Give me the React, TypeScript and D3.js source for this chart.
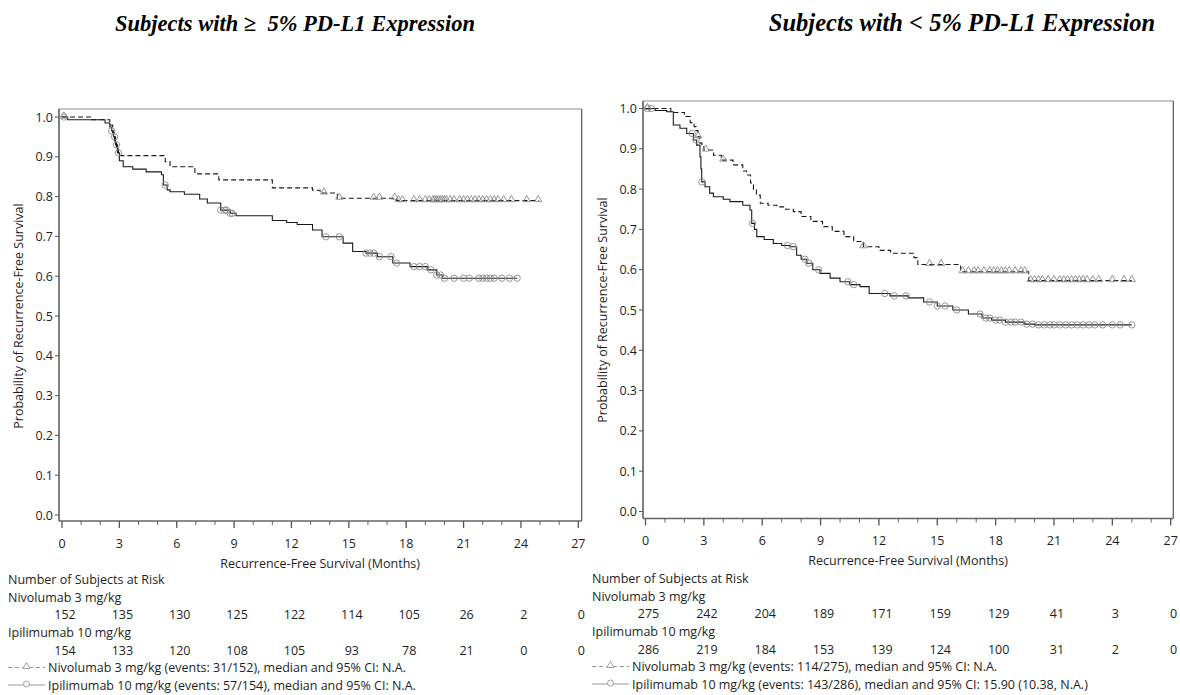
import React from 'react';
import * as d3 from 'd3';

// ---------- DATA ----------
const monthTicks = [0, 3, 6, 9, 12, 15, 18, 21, 24, 27];
const minorTicks = d3.range(0, 28, 1);
const probTicks = [0, 0.1, 0.2, 0.3, 0.4, 0.5, 0.6, 0.7, 0.8, 0.9, 1.0];

const titleLeft = 'Subjects with \u2265  5% PD-L1 Expression';
const titleRight = 'Subjects with < 5% PD-L1 Expression';
const xAxisLabel = 'Recurrence-Free Survival (Months)';
const yAxisLabel = 'Probability of Recurrence-Free Survival';
const riskHeader = 'Number of Subjects at Risk';
const armNivo = 'Nivolumab 3 mg/kg';
const armIpi = 'Ipilimumab 10 mg/kg';

// Left panel (>= 5% PD-L1)
const leftNivoTimes = [0, 1.5, 2.5, 2.65, 2.75, 2.85, 2.95, 5.4, 5.65, 6.95, 8.2, 11.0, 13.1, 13.5, 14.4, 17.5, 24.95];
const leftNivoSurv = [1.0, 0.993, 0.98, 0.96, 0.94, 0.92, 0.903, 0.888, 0.875, 0.857, 0.842, 0.822, 0.816, 0.809, 0.796, 0.79, 0.79];
const leftNivoCensor = [0.1, 13.7, 14.5, 16.3, 16.6, 17.4, 17.6, 17.8, 18.4, 18.7, 19.0, 19.2, 19.4, 19.5, 19.6, 19.7, 19.8, 19.9, 20.0, 20.1, 20.3, 20.5, 20.8, 21.0, 21.2, 21.4, 21.6, 21.8, 22.0, 22.2, 22.4, 22.6, 22.8, 23.1, 23.5, 24.3, 24.9];
const leftIpiTimes = [0, 0.3, 2.25, 2.5, 2.6, 2.7, 2.8, 2.9, 3.0, 3.2, 3.7, 4.4, 5.2, 5.3, 5.5, 5.65, 6.4, 7.2, 7.6, 8.3, 8.8, 9.1, 11.0, 11.75, 12.3, 13.1, 13.6, 14.7, 15.2, 15.9, 16.5, 17.3, 18.2, 19.1, 19.6, 19.9, 23.8];
const leftIpiSurv = [1.0, 0.993, 0.985, 0.975, 0.965, 0.95, 0.93, 0.91, 0.89, 0.875, 0.869, 0.862, 0.855, 0.829, 0.817, 0.812, 0.806, 0.794, 0.784, 0.766, 0.758, 0.752, 0.74, 0.735, 0.73, 0.716, 0.699, 0.683, 0.662, 0.658, 0.649, 0.633, 0.624, 0.616, 0.603, 0.595, 0.595];
const leftIpiCensor = [0.1, 2.6, 2.75, 2.85, 2.95, 5.4, 8.3, 8.5, 8.6, 8.8, 8.9, 13.8, 14.5, 15.9, 16.1, 16.3, 16.6, 17.2, 17.5, 18.4, 18.7, 19.0, 19.3, 19.6, 19.8, 20.0, 20.5, 21.0, 21.3, 21.8, 22.0, 22.2, 22.4, 22.6, 23.0, 23.4, 23.8];
const leftRiskNivo = [152, 135, 130, 125, 122, 114, 105, 26, 2, 0];
const leftRiskIpi = [154, 133, 120, 108, 105, 93, 78, 21, 0, 0];
const leftLegNivo = 'Nivolumab 3 mg/kg (events: 31/152), median and 95% CI: N.A.';
const leftLegIpi = 'Ipilimumab 10 mg/kg (events: 57/154), median and 95% CI: N.A.';

// Right panel (< 5% PD-L1)
const rightNivoTimes = [0, 1.3, 2.0, 2.3, 2.5, 2.6, 2.7, 2.8, 2.9, 3.0, 3.5, 3.9, 4.5, 5.0, 5.2, 5.4, 5.55, 5.7, 5.9, 6.3, 6.75, 7.2, 7.6, 8.0, 8.5, 9.1, 9.6, 10.2, 10.7, 11.2, 12.0, 12.6, 13.8, 14.0, 16.2, 19.7, 25.0];
const rightNivoSurv = [1.0, 0.99, 0.98, 0.965, 0.955, 0.945, 0.93, 0.914, 0.905, 0.897, 0.884, 0.872, 0.86, 0.845, 0.835, 0.815, 0.8, 0.785, 0.765, 0.76, 0.756, 0.75, 0.744, 0.732, 0.72, 0.707, 0.695, 0.682, 0.67, 0.657, 0.648, 0.641, 0.63, 0.613, 0.595, 0.573, 0.573];
const rightNivoCensor = [0.1, 2.7, 3.1, 4.0, 11.2, 14.6, 15.2, 16.3, 16.6, 16.9, 17.1, 17.4, 17.7, 17.9, 18.1, 18.3, 18.5, 18.7, 19.0, 19.3, 19.5, 19.8, 20.0, 20.2, 20.4, 20.7, 21.0, 21.3, 21.5, 21.7, 21.9, 22.1, 22.3, 22.5, 22.7, 23.0, 23.3, 24.0, 24.6, 25.0];
const rightIpiTimes = [0, 0.5, 1.09, 1.43, 1.77, 2.12, 2.46, 2.63, 2.8, 2.85, 2.89, 3.06, 3.3, 3.49, 4.0, 4.34, 5.0, 5.37, 5.46, 5.6, 5.72, 6.1, 6.57, 7.0, 7.43, 7.77, 8.0, 8.29, 8.6, 8.97, 9.49, 10.0, 10.5, 11.03, 11.5, 12.57, 13.5, 14.3, 15.0, 15.8, 16.6, 17.3, 17.8, 18.5, 19.5, 20.0, 25.0];
const rightIpiSurv = [1.0, 0.995, 0.992, 0.959, 0.951, 0.938, 0.922, 0.909, 0.88, 0.85, 0.818, 0.806, 0.79, 0.781, 0.775, 0.769, 0.76, 0.748, 0.715, 0.7, 0.682, 0.675, 0.665, 0.66, 0.657, 0.636, 0.626, 0.616, 0.6, 0.591, 0.579, 0.57, 0.563, 0.558, 0.541, 0.535, 0.53, 0.52, 0.51, 0.5, 0.49, 0.48, 0.475, 0.47, 0.465, 0.463, 0.463];
const rightIpiCensor = [0.1, 0.3, 2.4, 2.6, 2.9, 5.5, 7.3, 7.6, 8.2, 8.4, 8.9, 10.4, 10.7, 12.3, 12.8, 13.4, 14.6, 15.0, 15.4, 16.0, 17.2, 17.5, 17.7, 18.0, 18.2, 18.5, 18.8, 19.0, 19.3, 19.6, 19.9, 20.2, 20.5, 20.8, 21.0, 21.3, 21.6, 21.9, 22.2, 22.5, 22.8, 23.1, 23.5, 24.0, 24.4, 25.0];
const rightRiskNivo = [275, 242, 204, 189, 171, 159, 129, 41, 3, 0];
const rightRiskIpi = [286, 219, 184, 153, 139, 124, 100, 31, 2, 0];
const rightLegNivo = 'Nivolumab 3 mg/kg (events: 114/275), median and 95% CI: N.A.';
const rightLegIpi = 'Ipilimumab 10 mg/kg (events: 143/286), median and 95% CI: 15.90 (10.38, N.A.)';

// ---------- LAYOUT ----------
type Geo = {
  axisX: number; frameTop: number; frameRight: number; axisY: number;
  x0: number; x27: number; y0: number; y1: number;
  titleX: number; titleSize: number; textLeft: number; rowShift: number;
};

const leftGeo: Geo = { axisX: 59, frameTop: 109, frameRight: 581.7, axisY: 521, x0: 62, x27: 578.3, y0: 515, y1: 117, titleX: 295, titleSize: 22.5, textLeft: 8, rowShift: 0 };
const rightGeo: Geo = { axisX: 643, frameTop: 101, frameRight: 1173.3, axisY: 518.5, x0: 645.5, x27: 1170.7, y0: 511.5, y1: 108.5, titleX: 962, titleSize: 24.5, textLeft: 592, rowShift: -1 };

const FONT = '"Open Sans", "DejaVu Sans", sans-serif';
const FS = 12.5;
const LINE = '#1a1a1a';
const MARK = '#8a8a8a';
const TXT = '#1e1e1e';

// row centres of the table block (left panel)
const rowHeader = 579;
const rowNivoLabel = 597;
const rowNivoNums = 614.5;
const rowIpiLabel = 632;
const rowIpiNums = 650;
const rowLeg1 = 667.5;
const rowLeg2 = 685;

type PanelProps = {
  geo: Geo; title: string;
  nivoT: number[]; nivoS: number[]; nivoC: number[];
  ipiT: number[]; ipiS: number[]; ipiC: number[];
  riskNivo: number[]; riskIpi: number[];
  legNivo: string; legIpi: string;
};

function survAt(times: number[], surv: number[], t: number) {
  const i = d3.bisectRight(times, t) - 1;
  return surv[Math.max(0, i)];
}

function Panel(p: PanelProps) {
  const g = p.geo;
  const x = d3.scaleLinear().domain([0, 27]).range([g.x0, g.x27]);
  const y = d3.scaleLinear().domain([0, 1]).range([g.y0, g.y1]);
  const line = d3.line<[number, number]>().x(d => x(d[0])).y(d => y(d[1])).curve(d3.curveStepAfter);
  const nivoPts = p.nivoT.map((t, i) => [t, p.nivoS[i]] as [number, number]);
  const ipiPts = p.ipiT.map((t, i) => [t, p.ipiS[i]] as [number, number]);
  const tri = d3.symbol().type(d3.symbolTriangle).size(22)() as string;
  const plotMidY = (g.y0 + g.y1) / 2;
  const rs = g.rowShift;
  const rowY = (c: number) => c + rs + FS * 0.36;
  const tl = g.textLeft;
  const legLineEnd = tl + 37;
  const legText = tl + 40;
  return (
    <g>
      <text x={g.titleX} y={31} textAnchor="middle" fontFamily='"Liberation Serif", "Times New Roman", serif' fontWeight="bold" fontStyle="italic" fontSize={g.titleSize} style={{ whiteSpace: 'pre' }}>{p.title}</text>
      {/* frame */}
      <line x1={g.axisX} x2={g.frameRight} y1={g.frameTop} y2={g.frameTop} stroke="#8c8c8c" strokeWidth={1.2} />
      <line x1={g.frameRight} x2={g.frameRight} y1={g.frameTop} y2={g.axisY} stroke="#555" strokeWidth={1.2} />
      <line x1={g.axisX} x2={g.axisX} y1={g.frameTop} y2={g.axisY} stroke="#555" strokeWidth={1.5} />
      <line x1={g.axisX} x2={g.frameRight} y1={g.axisY} y2={g.axisY} stroke="#666" strokeWidth={1.5} />
      {/* y ticks */}
      {probTicks.map(v => (
        <g key={'y' + v}>
          <line x1={g.axisX - 4} x2={g.axisX} y1={y(v)} y2={y(v)} stroke="#555" strokeWidth={1} />
          <text x={g.axisX - 6} y={y(v) + FS * 0.36} textAnchor="end" fontFamily={FONT} fontSize={FS} fill={TXT}>{v.toFixed(1)}</text>
        </g>
      ))}
      {/* x ticks */}
      {minorTicks.map(m => (
        <line key={'m' + m} x1={x(m)} x2={x(m)} y1={g.axisY} y2={g.axisY + (m % 3 === 0 ? 7 : 4)} stroke="#555" strokeWidth={m % 3 === 0 ? 1.3 : 0.9} />
      ))}
      {monthTicks.map(m => (
        <text key={'xl' + m} x={x(m)} y={g.axisY + 22 + FS * 0.36} textAnchor="middle" fontFamily={FONT} fontSize={FS} fill={TXT}>{m}</text>
      ))}
      <text x={(g.x0 + g.x27) / 2} y={g.axisY + 42 + FS * 0.36} textAnchor="middle" fontFamily={FONT} fontSize={FS} fill={TXT}>{xAxisLabel}</text>
      <text transform={`translate(${g.axisX - 41},${plotMidY}) rotate(-90)`} textAnchor="middle" fontFamily={FONT} fontSize={FS} fill={TXT} dy={FS * 0.36}>{yAxisLabel}</text>
      {/* curves */}
      <path d={line(nivoPts) as string} fill="none" stroke={LINE} strokeWidth={1.1} strokeDasharray="5,3" />
      <path d={line(ipiPts) as string} fill="none" stroke={LINE} strokeWidth={1.1} />
      {p.nivoC.map((t, i) => (
        <path key={'nc' + i} d={tri} transform={`translate(${x(t)},${y(survAt(p.nivoT, p.nivoS, t)) - 1})`} fill="none" stroke={MARK} strokeWidth={0.9} />
      ))}
      {p.ipiC.map((t, i) => (
        <circle key={'ic' + i} cx={x(t)} cy={y(survAt(p.ipiT, p.ipiS, t))} r={3.2} fill="none" stroke={MARK} strokeWidth={0.9} />
      ))}
      {/* at-risk table */}
      <text x={tl} y={rowY(rowHeader)} fontFamily={FONT} fontSize={FS} fill={TXT}>{riskHeader}</text>
      <text x={tl} y={rowY(rowNivoLabel)} fontFamily={FONT} fontSize={FS} fill={TXT}>{armNivo}</text>
      {p.riskNivo.map((n, i) => (
        <text key={'rn' + i} x={x(monthTicks[i]) + 3} y={rowY(rowNivoNums)} textAnchor="middle" fontFamily={FONT} fontSize={FS} fill={TXT}>{n}</text>
      ))}
      <text x={tl} y={rowY(rowIpiLabel)} fontFamily={FONT} fontSize={FS} fill={TXT}>{armIpi}</text>
      {p.riskIpi.map((n, i) => (
        <text key={'ri' + i} x={x(monthTicks[i]) + 3} y={rowY(rowIpiNums)} textAnchor="middle" fontFamily={FONT} fontSize={FS} fill={TXT}>{n}</text>
      ))}
      {/* legend */}
      <line x1={tl} x2={legLineEnd} y1={rowLeg1 + rs} y2={rowLeg1 + rs} stroke="#999" strokeWidth={1} strokeDasharray="4,3" />
      <path d={tri} transform={`translate(${(tl + legLineEnd) / 2},${rowLeg1 - 1 + rs})`} fill="white" stroke="#999" strokeWidth={0.9} />
      <text x={legText} y={rowY(rowLeg1)} fontFamily={FONT} fontSize={FS} fill={TXT}>{p.legNivo}</text>
      <line x1={tl} x2={legLineEnd} y1={rowLeg2 + rs} y2={rowLeg2 + rs} stroke="#999" strokeWidth={1} />
      <circle cx={(tl + legLineEnd) / 2} cy={rowLeg2 - 1 + rs} r={3} fill="white" stroke="#999" strokeWidth={0.9} />
      <text x={legText} y={rowY(rowLeg2)} fontFamily={FONT} fontSize={FS} fill={TXT}>{p.legIpi}</text>
    </g>
  );
}

export default function App() {
  return (
    <svg width={1180} height={695} style={{ position: 'absolute', left: 0, top: 0, background: 'white' }}>
      <rect x={0} y={0} width={1180} height={695} fill="white" />
      <Panel geo={leftGeo} title={titleLeft}
        nivoT={leftNivoTimes} nivoS={leftNivoSurv} nivoC={leftNivoCensor}
        ipiT={leftIpiTimes} ipiS={leftIpiSurv} ipiC={leftIpiCensor}
        riskNivo={leftRiskNivo} riskIpi={leftRiskIpi} legNivo={leftLegNivo} legIpi={leftLegIpi} />
      <Panel geo={rightGeo} title={titleRight}
        nivoT={rightNivoTimes} nivoS={rightNivoSurv} nivoC={rightNivoCensor}
        ipiT={rightIpiTimes} ipiS={rightIpiSurv} ipiC={rightIpiCensor}
        riskNivo={rightRiskNivo} riskIpi={rightRiskIpi} legNivo={rightLegNivo} legIpi={rightLegIpi} />
    </svg>
  );
}
